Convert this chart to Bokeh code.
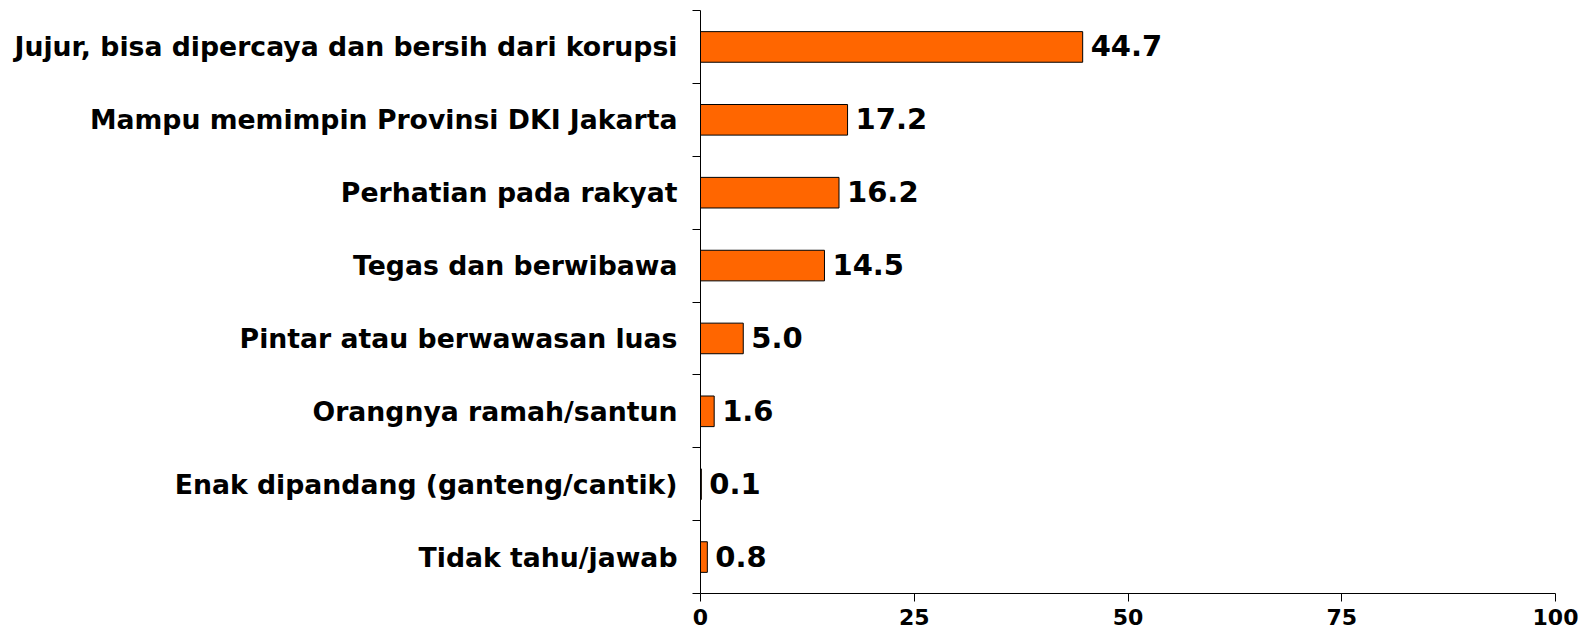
from bokeh.plotting import figure
from bokeh.models import ColumnDataSource, FixedTicker, Range1d
from bokeh.core.properties import value
from bokeh.embed import file_html
from bokeh.resources import INLINE

categories = [
    "Jujur, bisa dipercaya dan bersih dari korupsi",
    "Mampu memimpin Provinsi DKI Jakarta",
    "Perhatian pada rakyat",
    "Tegas dan berwibawa",
    "Pintar atau berwawasan luas",
    "Orangnya ramah/santun",
    "Enak dipandang (ganteng/cantik)",
    "Tidak tahu/jawab",
]
values = [44.7, 17.2, 16.2, 14.5, 5.0, 1.6, 0.1, 0.8]
x_ticks = [0, 25, 50, 75, 100]

n = len(categories)
centers = [i + 0.5 for i in range(n)]
boundaries = [float(i) for i in range(n + 1)]
labels = [f"{v:.1f}" for v in values]

src = ColumnDataSource(dict(y=centers, v=values, lab=labels))

FONT = "DejaVu Sans"

p = figure(width=1591, height=634, output_backend="svg", toolbar_location=None,
           x_range=Range1d(0, 100), y_range=Range1d(n, 0),
           min_border_left=700, min_border_right=36, min_border_top=10, min_border_bottom=41)
p.outline_line_color = None
p.xgrid.visible = False
p.ygrid.visible = False
p.background_fill_color = "white"
p.border_fill_color = "white"

p.hbar(y="y", right="v", left=0, height=0.42, source=src,
       fill_color="#FF6600", line_color="black", line_width=1)

p.text(x="v", y="y", text="lab", source=src, x_offset=8, y_offset=-1,
       text_font=value(FONT), text_font_style="bold", text_font_size="29px",
       text_baseline="middle", text_align="left", text_color="black")

# x axis
xa = p.xaxis[0]
xa.ticker = FixedTicker(ticks=x_ticks)
xa.major_tick_out = 8
xa.major_tick_in = 0
xa.minor_tick_out = 0
xa.minor_tick_in = 0
xa.axis_line_color = "black"
xa.major_tick_line_color = "black"
xa.major_label_text_font = FONT
xa.major_label_text_font_style = "bold"
xa.major_label_text_font_size = "22px"
xa.major_label_text_color = "black"
xa.major_label_standoff = 7

# y axis
ya = p.yaxis[0]
ya.ticker = FixedTicker(ticks=centers, minor_ticks=boundaries)
ya.major_label_overrides = {c: lab for c, lab in zip(centers, categories)}
ya.major_tick_out = 0
ya.major_tick_in = 0
ya.minor_tick_out = 8
ya.minor_tick_in = 0
ya.minor_tick_line_color = "black"
ya.axis_line_color = "black"
ya.major_label_text_font = FONT
ya.major_label_text_font_style = "bold"
ya.major_label_text_font_size = "26.7px"
ya.major_label_text_color = "black"
ya.major_label_standoff = 15

open("out.html", "w").write(file_html(p, INLINE))
